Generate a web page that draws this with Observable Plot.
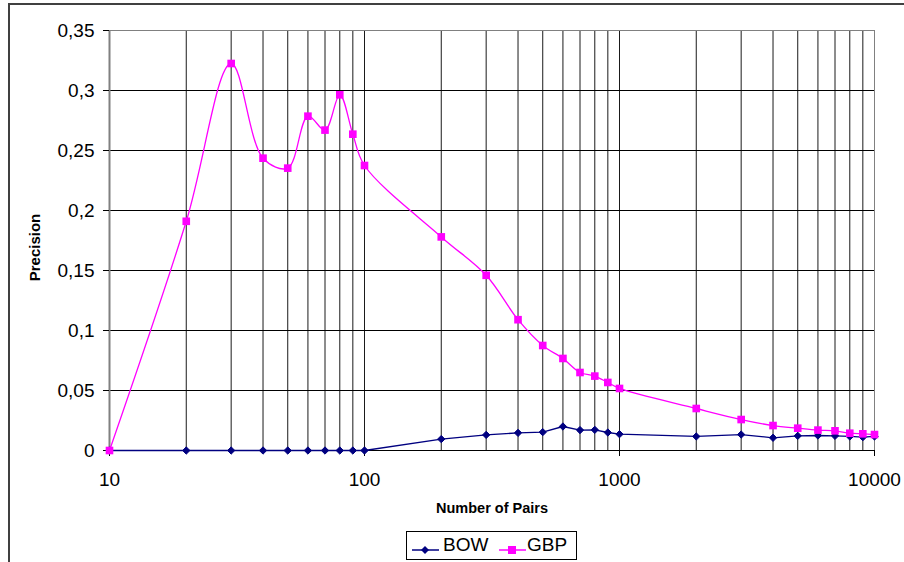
<!DOCTYPE html>
<html>
<head>
<meta charset="utf-8">
<script src="https://cdn.jsdelivr.net/npm/d3@7"></script>
<script src="https://cdn.jsdelivr.net/npm/@observablehq/plot@0.6"></script>
<style>
  html, body { margin: 0; padding: 0; background: #fff; }
  #wrap { position: relative; width: 904px; height: 562px; overflow: hidden; background: #fff; font-family: "Liberation Sans", Arial, sans-serif; }
  #outer { position: absolute; left: 8px; top: 3px; width: 1200px; height: 1200px; border-left: 2px solid #404040; border-top: 2px solid #404040; box-sizing: border-box; }
  #chart { position: absolute; left: 0; top: 0; }
  #legend { position: absolute; left: 406px; top: 531px; width: 169px; height: 27px; border: 1px solid #000; background: #fff; font-size: 19px; color: #000; white-space: nowrap; }
  #legend .sw { position: absolute; top: 7px; }
  #legend .lb { position: absolute; top: 3px; line-height: 20px; }
</style>
</head>
<body>
<div id="wrap">
  <div id="outer"></div>
  <div id="chart"></div>
  <div id="legend"></div>
</div>
<script>
// Data
const pairs = [10, 20, 30, 40, 50, 60, 70, 80, 90, 100, 200, 300, 400, 500, 600, 700, 800, 900, 1000, 2000, 3000, 4000, 5000, 6000, 7000, 8000, 9000, 10000];
const bow = [0, 0, 0, 0, 0, 0, 0, 0, 0, 0, 0.0095, 0.013, 0.0147, 0.0153, 0.0200, 0.0170, 0.0172, 0.0150, 0.0136, 0.0117, 0.0133, 0.0106, 0.0122, 0.0125, 0.0122, 0.0117, 0.0111, 0.0117];
const gbp = [0, 0.191, 0.3225, 0.2436, 0.2353, 0.2786, 0.267, 0.2964, 0.2636, 0.2375, 0.178, 0.146, 0.109, 0.0875, 0.0767, 0.065, 0.062, 0.0567, 0.0517, 0.035, 0.0258, 0.0208, 0.0186, 0.017, 0.0164, 0.0144, 0.0139, 0.0133];
const seriesNames = ["BOW", "GBP"];
const yTicks = [0, 0.05, 0.1, 0.15, 0.2, 0.25, 0.3, 0.35];
const xTicks = [10, 100, 1000, 10000];
const xGrid = [20, 30, 40, 50, 60, 70, 80, 90, 100, 200, 300, 400, 500, 600, 700, 800, 900, 1000, 2000, 3000, 4000, 5000, 6000, 7000, 8000, 9000];
const xTitle = "Number of Pairs";
const yTitle = "Precision";

const colors = {BOW: "#000080", GBP: "#ff00ff"};
const bowData = pairs.map((p, i) => ({x: p, y: bow[i]}));
const gbpData = pairs.map((p, i) => ({x: p, y: gbp[i]}));
const fmtY = d => String(+d.toFixed(2)).replace(".", ",");

const chart = Plot.plot({
  width: 904,
  height: 562,
  marginLeft: 109,
  marginRight: 30,
  marginTop: 30,
  marginBottom: 112,
  style: {fontFamily: "'Liberation Sans', Arial, sans-serif", fontSize: "19px", color: "#000", background: "transparent"},
  x: {type: "log", domain: [10, 10000]},
  y: {domain: [0, 0.35]},
  marks: [
    Plot.ruleX(xGrid, {stroke: "#1a1a1a", strokeWidth: 1}),
    Plot.ruleY(yTicks.filter(d => d > 0), {stroke: "#000", strokeWidth: 1}),
    Plot.frame({stroke: "#808080", strokeWidth: 1}),
    Plot.ruleX([10], {stroke: "#808080", strokeWidth: 2}),
    Plot.ruleY([0], {stroke: "#000", strokeWidth: 1}),
    Plot.axisY({ticks: yTicks, tickSize: 6, tickPadding: 9, tickFormat: fmtY, fontSize: 19, label: null}),
    Plot.axisX({ticks: xTicks, tickSize: 6, tickPadding: 16, tickFormat: d3.format("d"), fontSize: 19, label: null}),
    Plot.line(bowData, {x: "x", y: "y", stroke: colors.BOW, strokeWidth: 1.3}),
    Plot.line(gbpData, {x: "x", y: "y", stroke: colors.GBP, strokeWidth: 1.3, curve: "catmull-rom"}),
    Plot.dot(bowData, {x: "x", y: "y", symbol: "diamond2", r: 3.3, fill: colors.BOW, stroke: colors.BOW, strokeWidth: 1}),
    Plot.dot(gbpData, {x: "x", y: "y", symbol: "square", r: 4.3, fill: colors.GBP, stroke: "none"}),
    Plot.text([yTitle], {frameAnchor: "left", dx: -74, dy: 7, rotate: -90, textAnchor: "middle", lineAnchor: "middle", fontWeight: "bold", fontSize: 15}),
    Plot.text([xTitle], {frameAnchor: "bottom", dy: 58, textAnchor: "middle", lineAnchor: "middle", fontWeight: "bold", fontSize: 14.5})
  ]
});
document.getElementById("chart").appendChild(chart);

// Legend
const legend = document.getElementById("legend");
const symbolPaths = {
  BOW: c => `<path d="M13,2 L17,6 L13,10 L9,6 Z" fill="${c}"/>`,
  GBP: c => `<rect x="9" y="2" width="8" height="8" fill="${c}"/>`
};
const legendPos = [{sw: 5, lb: 36}, {sw: 92, lb: 120}];
seriesNames.forEach((name, i) => {
  const sw = document.createElement("div");
  sw.className = "sw";
  sw.style.left = legendPos[i].sw + "px";
  sw.innerHTML = `<svg width="27" height="12"><line x1="0" x2="27" y1="6" y2="6" stroke="${colors[name]}" stroke-width="1.5"/>${symbolPaths[name](colors[name])}</svg>`;
  legend.appendChild(sw);
  const lb = document.createElement("div");
  lb.className = "lb";
  lb.style.left = legendPos[i].lb + "px";
  lb.textContent = name;
  legend.appendChild(lb);
});
</script>
</body>
</html>
